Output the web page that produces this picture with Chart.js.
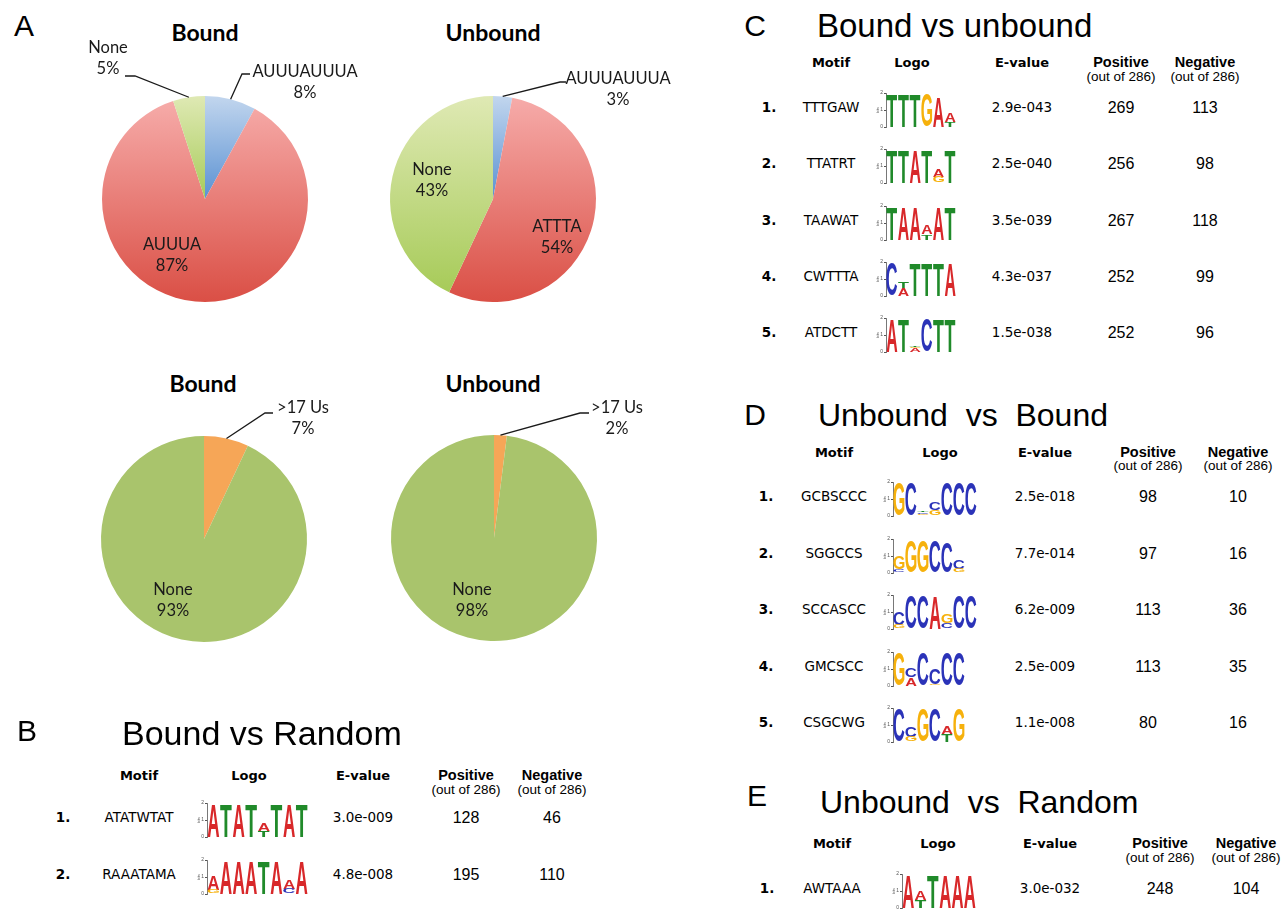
<!DOCTYPE html>
<html>
<head>
<meta charset="utf-8">
<script src="https://cdn.jsdelivr.net/npm/chart.js@4.4.0/dist/chart.umd.min.js"></script>
<style>
  body { margin: 0; background: #fff; }
  #page { position: relative; width: 1288px; height: 909px; overflow: hidden; color: #000; }
  .t { position: absolute; white-space: pre; line-height: 1; }
  canvas { position: absolute; }
</style>
</head>
<body>
<div id="page"></div>
<script>
// ---- panel A : pie data ----
const topBoundLabels = ['AUUUAUUUA', 'AUUUA', 'None'];
const topBoundValues = [8, 87, 5];
const topUnboundLabels = ['AUUUAUUUA', 'ATTTA', 'None'];
const topUnboundValues = [3, 54, 43];
const botLabels = ['>17 Us', 'None'];
const botBoundValues = [7, 93];
const botUnboundValues = [2, 98];

// ---- panels B-E : motif tables ----
const outOf = '(out of 286)';
const motifsB = ['ATATWTAT', 'RAAATAMA'];
const evalsB = ['3.0e-009', '4.8e-008'];
const positiveB = [128, 195];
const negativeB = [46, 110];
// logo columns, letters listed bottom to top with height in bits
const logosB = [
  ['A1.95', 'T1.95', 'A1.95', 'T1.95', 'T0.38 A0.42', 'T1.95', 'A1.95', 'T1.95'],
  ['G0.25 A0.8', 'A1.95', 'A1.95', 'A1.95', 'T1.95', 'A1.95', 'C0.3 A0.55', 'A1.95']
];

const motifsC = ['TTTGAW', 'TTATRT', 'TAAWAT', 'CWTTTA', 'ATDCTT'];
const evalsC = ['2.9e-043', '2.5e-040', '3.5e-039', '4.3e-037', '1.5e-038'];
const positiveC = [269, 256, 267, 252, 252];
const negativeC = [113, 98, 118, 99, 96];
const logosC = [
  ['T1.95', 'T1.95', 'T1.95', 'G1.95', 'A1.8', 'T0.32 A0.54'],
  ['T1.95', 'T1.95', 'A1.95', 'T1.95', 'G0.37 A0.43', 'T1.95'],
  ['T1.95', 'A1.95', 'A1.95', 'T0.35 A0.55', 'A1.95', 'T1.95'],
  ['C1.95', 'A0.5 T0.4', 'T1.95', 'T1.95', 'T1.95', 'A1.95'],
  ['A1.95', 'T1.95', 'A0.22 G0.08 T0.08', 'C1.95', 'T1.95', 'T1.95']
];

const motifsD = ['GCBSCCC', 'SGGCCS', 'SCCASCC', 'GMCSCC', 'CSGCWG'];
const evalsD = ['2.5e-018', '7.7e-014', '6.2e-009', '2.5e-009', '1.1e-008'];
const positiveD = [98, 97, 113, 113, 80];
const negativeD = [10, 16, 36, 35, 16];
const logosD = [
  ['G1.95', 'C1.95', 'G0.12 C0.1 T0.08', 'G0.35 C0.45', 'C1.95', 'C1.95', 'C1.95'],
  ['C0.2 G0.8', 'G1.85', 'G1.85', 'C1.85', 'C1.8', 'G0.25 C0.55'],
  ['G0.25 C0.75', 'C1.95', 'C1.95', 'A1.95', 'C0.35 G0.5', 'C1.95', 'C1.95'],
  ['G1.95', 'A0.5 C0.55', 'C1.95', 'G0.12 C0.9', 'C1.95', 'C1.95'],
  ['C1.95', 'G0.3 C0.6', 'G1.95', 'C1.95', 'T0.45 A0.45', 'G1.95']
];

const motifsE = ['AWTAAA'];
const evalsE = ['3.0e-032'];
const positiveE = [248];
const negativeE = [104];
const logosE = [
  ['A1.95', 'T0.45 A0.5', 'T1.95', 'A1.95', 'A1.95', 'A1.95']
];

// ---- styles ----
const letterColors = { A: '#d8282a', C: '#2b33b8', G: '#f6b10c', T: '#208a2a' };
const BLUE = ['#c2d6ee', '#5a91d2'];
const RED = ['#f6aba9', '#da4f45'];
const LGREEN = ['#dfe9b4', '#a7cb59'];
const GREEN = ['#a9c46c', '#a9c46c'];
const ORANGE = ['#f6a657', '#f6a657'];

Chart.defaults.font.family = '"Liberation Sans", Arial, sans-serif';
Chart.defaults.animation = false;

const page = document.getElementById('page');

function put(text, x, y, font, align) {
  const d = document.createElement('div');
  d.className = 't';
  d.textContent = text;
  d.style.font = font;
  d.style.lineHeight = '1';
  d.style.left = x + 'px';
  d.style.top = y + 'px';
  d.style.transform = align === 'left' ? 'translate(0,-50%)' : 'translate(-50%,-50%)';
  page.appendChild(d);
}

// gradient over each slice's own vertical extent (like the spreadsheet pies)
function sliceFill(c, fills) {
  const col = fills[c.dataIndex];
  const chart = c.chart, area = chart.chartArea;
  if (!area || col[0] === col[1]) return col[1];
  const data = c.dataset.data;
  const tot = data.reduce((a, b) => a + b, 0);
  let before = 0;
  for (let k = 0; k < c.dataIndex; k++) before += data[k];
  const a0 = -Math.PI / 2 + 2 * Math.PI * before / tot;
  const a1 = a0 + 2 * Math.PI * data[c.dataIndex] / tot;
  const cy = (area.top + area.bottom) / 2, R = c.dataset.radius;
  const ys = [cy, cy + R * Math.sin(a0), cy + R * Math.sin(a1)];
  [-Math.PI / 2, Math.PI / 2, 3 * Math.PI / 2].forEach(t => {
    if (t >= a0 && t <= a1) ys.push(cy + R * Math.sin(t));
  });
  const g = chart.ctx.createLinearGradient(0, Math.min(...ys), 0, Math.max(...ys));
  g.addColorStop(0, col[0]);
  g.addColorStop(1, col[1]);
  return g;
}

const pieText = {
  id: 'pieText',
  afterDatasetsDraw(chart, args, opts) {
    const ctx = chart.ctx;
    const meta = chart.getDatasetMeta(0);
    const ds = chart.data.datasets[0];
    ctx.save();
    ctx.font = '16.5px Lato';
    ctx.fillStyle = '#1a1a1a';
    ctx.strokeStyle = '#1a1a1a';
    ctx.lineWidth = 1.3;
    ctx.textAlign = 'center';
    ctx.textBaseline = 'middle';
    opts.items.forEach(t => {
      const arc = meta.data[t.i];
      const cx = arc.x, cy = arc.y;
      if (t.elbow) {
        const mid = (arc.startAngle + arc.endAngle) / 2;
        ctx.beginPath();
        ctx.moveTo(cx + arc.outerRadius * Math.cos(mid), cy + arc.outerRadius * Math.sin(mid));
        ctx.lineTo(cx + t.elbow[0], cy + t.elbow[1]);
        ctx.lineTo(cx + t.end[0], cy + t.elbow[1]);
        ctx.stroke();
      }
      ctx.fillText(chart.data.labels[t.i], cx + t.dx, cy + t.dy);
      ctx.fillText(ds.data[t.i] + '%', cx + t.dx, cy + t.dy + 21);
    });
    ctx.restore();
  }
};

function makePie(cx, cy, labels, values, fills, items) {
  const W = 440, H = 360;
  const cv = document.createElement('canvas');
  cv.width = W; cv.height = H;
  cv.style.left = (cx - W / 2) + 'px';
  cv.style.top = (cy - H / 2) + 'px';
  page.appendChild(cv);
  new Chart(cv, {
    type: 'pie',
    data: {
      labels: labels,
      datasets: [{
        data: values,
        radius: 103,
        borderWidth: 0,
        backgroundColor: c => sliceFill(c, fills)
      }]
    },
    options: {
      responsive: false,
      events: [],
      layout: { padding: 0 },
      plugins: { legend: { display: false }, tooltip: { enabled: false }, pieText: { items: items } }
    },
    plugins: [pieText]
  });
}

// ---- sequence logos: floating bars, letters stretched into each bar ----
function drawGlyph(ctx, L, x, y, w, h) {
  ctx.save();
  ctx.font = 'bold 100px "Liberation Sans"';
  ctx.textAlign = 'left';
  ctx.textBaseline = 'alphabetic';
  const m = ctx.measureText(L);
  const gl = m.actualBoundingBoxLeft, gr = m.actualBoundingBoxRight;
  const ga = m.actualBoundingBoxAscent, gd = m.actualBoundingBoxDescent;
  ctx.translate(x, y);
  ctx.scale(w / (gl + gr), h / (ga + gd));
  ctx.fillStyle = letterColors[L];
  ctx.fillText(L, gl, ga);
  ctx.restore();
}

const letterPlugin = {
  id: 'letters',
  afterDatasetsDraw(chart) {
    chart.data.datasets.forEach((ds, di) => {
      chart.getDatasetMeta(di).data.forEach((bar, i) => {
        if (!ds.data[i]) return;
        const top = Math.min(bar.y, bar.base);
        drawGlyph(chart.ctx, ds.label, bar.x - bar.width / 2, top, bar.width, Math.abs(bar.base - bar.y));
      });
    });
  }
};

function makeLogo(logo, left, rowY, colW) {
  const n = logo.length;
  const W = Math.round(11 + n * colW + 3), H = 45;
  const cv = document.createElement('canvas');
  cv.width = W; cv.height = H;
  cv.style.left = (left - 11) + 'px';
  cv.style.top = (rowY - 19) + 'px';
  page.appendChild(cv);
  const letters = ['A', 'C', 'G', 'T'];
  const datasets = letters.map(L => ({
    label: L, data: new Array(n).fill(null), grouped: false,
    backgroundColor: 'rgba(0,0,0,0)', borderWidth: 0,
    barPercentage: 0.92, categoryPercentage: 1
  }));
  logo.forEach((col, p) => {
    let y = 0;
    col.split(' ').forEach(tok => {
      const h = parseFloat(tok.slice(1));
      datasets[letters.indexOf(tok[0])].data[p] = [y, y + h];
      y += h;
    });
  });
  new Chart(cv, {
    type: 'bar',
    data: { labels: logo.map((_, p) => String(p + 1)), datasets: datasets },
    options: {
      responsive: false,
      events: [],
      layout: { padding: { top: 2, right: 3 } },
      plugins: { legend: { display: false }, tooltip: { enabled: false } },
      scales: {
        x: {
          grid: { display: false }, border: { display: false },
          ticks: { font: { size: 4 }, color: '#999', padding: 0, autoSkip: false, maxRotation: 0 },
          afterFit: s => { s.height = 7; }
        },
        y: {
          min: 0, max: 2,
          grid: { drawOnChartArea: false, tickLength: 2, color: '#555' },
          border: { display: true, color: '#555', width: 0.8 },
          ticks: { stepSize: 1, font: { size: 5 }, color: '#555', padding: 1 },
          title: { display: true, text: 'bits', font: { size: 4 }, padding: 0, color: '#555' },
          afterFit: s => { s.width = 11; }
        }
      }
    },
    plugins: [letterPlugin]
  });
}

function drawTable(L, motifs, evals, pos, neg, logos) {
  const hdr = 'bold 13px "DejaVu Sans"';
  put('Motif', L.motif, L.head, hdr);
  put('Logo', L.logoHead, L.head, hdr);
  put('E-value', L.evalue, L.head, hdr);
  put('Positive', L.pos, L.head, 'bold 14.5px "Liberation Sans"');
  put(outOf, L.pos, L.out, '13.5px "Liberation Sans"');
  put('Negative', L.neg, L.head, 'bold 14.5px "Liberation Sans"');
  put(outOf, L.neg, L.out, '13.5px "Liberation Sans"');
  motifs.forEach((m, i) => {
    const y = L.row0 + i * L.step;
    put((i + 1) + '.', L.num, y, 'bold 13.5px "DejaVu Sans"');
    put(m, L.motif, y, '13.5px "DejaVu Sans"');
    makeLogo(logos[i], L.logoL, y, L.colW);
    put(evals[i], L.evalue, y, '13.5px "DejaVu Sans"');
    put(String(pos[i]), L.pos, y, '16px "Liberation Sans"');
    put(String(neg[i]), L.neg, y, '16px "Liberation Sans"');
  });
}

// ---- panel A ----
put('A', 24, 26, '30px "Liberation Sans"');
const tFont = 'bold 23px Lato';
put('Bound', 205, 32, tFont);
put('Unbound', 493, 32, tFont);
put('Bound', 203, 383, tFont);
put('Unbound', 493, 383, tFont);

makePie(205, 199, topBoundLabels, topBoundValues, [BLUE, RED, LGREEN], [
  { i: 0, dx: 100, dy: -127, elbow: [37, -125], end: [45, -125] },
  { i: 1, dx: -33, dy: 46 },
  { i: 2, dx: -97, dy: -151, elbow: [-70, -123], end: [-80, -123] }
]);
makePie(493, 199, topUnboundLabels, topUnboundValues, [BLUE, RED, LGREEN], [
  { i: 0, dx: 125, dy: -120, elbow: [67, -117], end: [73, -117] },
  { i: 1, dx: 64, dy: 28 },
  { i: 2, dx: -61, dy: -29 }
]);
makePie(204, 539, botLabels, botBoundValues, [ORANGE, GREEN], [
  { i: 0, dx: 99, dy: -131, elbow: [61, -126], end: [69, -126] },
  { i: 1, dx: -31, dy: 51 }
]);
makePie(494, 538, botLabels, botUnboundValues, [ORANGE, GREEN], [
  { i: 0, dx: 123, dy: -130, elbow: [86, -125], end: [95, -125] },
  { i: 1, dx: -22, dy: 52 }
]);

// ---- panel B ----
put('B', 27, 731, '30px "Liberation Sans"');
put('Bound vs Random', 122, 733, '34px "Liberation Sans"', 'left');
drawTable({ num: 63, motif: 139, logoL: 207, logoHead: 249, evalue: 363, pos: 466, neg: 552,
  head: 775, out: 790, row0: 818, step: 57, colW: 12.6 },
  motifsB, evalsB, positiveB, negativeB, logosB);

// ---- panel C ----
put('C', 755, 26, '30px "Liberation Sans"');
put('Bound vs unbound', 817, 25, '33px "Liberation Sans"', 'left');
drawTable({ num: 769, motif: 831, logoL: 886, logoHead: 912, evalue: 1022, pos: 1121, neg: 1205,
  head: 62, out: 77, row0: 108, step: 56.3, colW: 11.6 },
  motifsC, evalsC, positiveC, negativeC, logosC);

// ---- panel D ----
put('D', 755, 415, '30px "Liberation Sans"');
put('Unbound  vs  Bound', 818, 415, '32px "Liberation Sans"', 'left');
drawTable({ num: 766, motif: 834, logoL: 893, logoHead: 940, evalue: 1045, pos: 1148, neg: 1238,
  head: 452, out: 466, row0: 497, step: 56.5, colW: 12 },
  motifsD, evalsD, positiveD, negativeD, logosD);

// ---- panel E ----
put('E', 757, 796, '30px "Liberation Sans"');
put('Unbound  vs  Random', 820, 802, '32px "Liberation Sans"', 'left');
drawTable({ num: 767, motif: 832, logoL: 902, logoHead: 938, evalue: 1050, pos: 1160, neg: 1246,
  head: 843, out: 858, row0: 889, step: 56, colW: 12.3 },
  motifsE, evalsE, positiveE, negativeE, logosE);
</script>
</body>
</html>
